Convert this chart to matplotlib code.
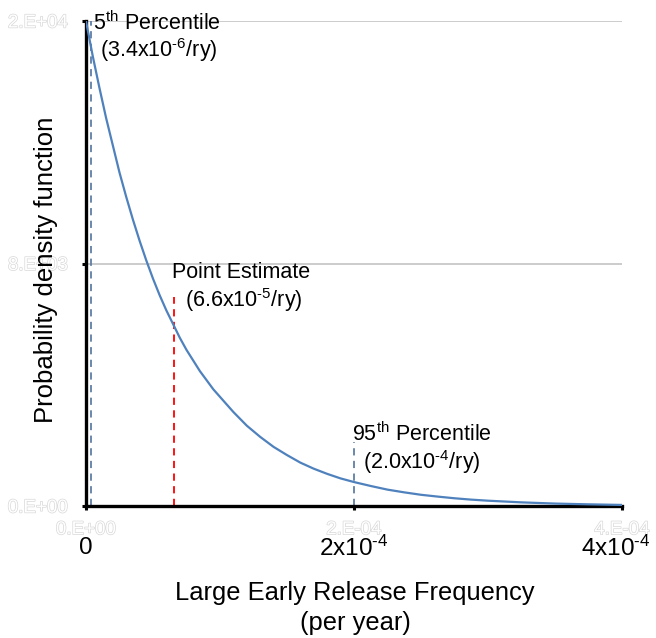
import matplotlib
matplotlib.use("Agg")
import matplotlib.pyplot as plt
import matplotlib.patheffects as pe

plt.rcParams['font.family'] = ['Liberation Sans', 'DejaVu Sans']
plt.rcParams['mathtext.fontset'] = 'custom'
plt.rcParams['mathtext.rm'] = 'Liberation Sans'
plt.rcParams['mathtext.it'] = 'Liberation Sans:italic'
plt.rcParams['mathtext.bf'] = 'Liberation Sans:bold'

# Data (frequency per year, pdf value)
freq_e4 = [0.00, 0.05, 0.10, 0.15, 0.20, 0.25, 0.30, 0.35, 0.40, 0.45, 0.50,
           0.55, 0.60, 0.65, 0.70, 0.75, 0.80, 0.85, 0.90, 0.95, 1.00,
           1.1, 1.2, 1.3, 1.4, 1.5, 1.6, 1.7, 1.8, 1.9, 2.0,
           2.125, 2.25, 2.375, 2.5, 2.625, 2.75, 2.875, 3.0, 3.25, 3.5, 3.75, 4.0]
pdf = [16000, 14850, 13800, 12800, 11900, 11000, 10200, 9450, 8750, 8100, 7500,
       6950, 6450, 6000, 5550, 5150, 4800, 4450, 4150, 3850, 3600,
       3100, 2650, 2280, 1950, 1680, 1430, 1230, 1060, 910, 790,
       660, 540, 450, 370, 310, 255, 210, 175, 120, 80, 55, 35]
freq = [v * 1e-4 for v in freq_e4]

p05 = 3.4e-6
point_est = 6.6e-5
p95 = 2.0e-4
p95_top = 2100
pe_top = 6900

y_ticks = [0, 8000, 16000]
y_tick_labels = ["0.E+00", "8.E+03", "2.E+04"]
x_ticks = [0, 2e-4, 4e-4]
x_tick_labels = ["0.E+00", "2.E-04", "4.E-04"]
x_show_labels = ["0", r"2x10$^{\text{-}4}$", r"4x10$^{\text{-}4}$"]

fig = plt.figure(figsize=(6.56, 6.38), dpi=100)
ax = fig.add_axes([86/656, 1 - 506/638, (622-86)/656, (506-21)/638])

ax.set_xlim(0, 4e-4)
ax.set_ylim(0, 16000)

for yv in y_ticks[1:]:
    ax.axhline(yv, color='#c8c8c8', lw=1.3, zorder=0)

ax.plot(freq, pdf, color='#4F81BD', lw=1.6, zorder=3, solid_joinstyle='round')

dash_col = '#5f7fa6'
ax.plot([p05, p05], [0, 16000], color=dash_col, lw=1.3, ls=(0, (4, 3)), zorder=2)
ax.plot([point_est, point_est], [0, pe_top], color='#ff0000', lw=1.3, ls=(0, (4, 3)), zorder=2)
ax.plot([p95, p95], [0, p95_top], color=dash_col, lw=1.3, ls=(0, (4, 3)), zorder=2)

for s in ['top', 'right']:
    ax.spines[s].set_visible(False)
for s in ['left', 'bottom']:
    ax.spines[s].set_linewidth(2.4)
    ax.spines[s].set_color('black')

outline = [pe.withStroke(linewidth=1.0, foreground='#d8d8d8')]
ax.set_yticks(y_ticks)
ax.set_yticklabels(y_tick_labels, color='white', fontsize=13.5, path_effects=outline)
ax.set_xticks(x_ticks)
ax.set_xticklabels(x_tick_labels, color='white', fontsize=13.5, path_effects=outline)
ax.tick_params(axis='y', length=3, width=2.2, pad=10, direction='out')
ax.tick_params(axis='x', length=3, width=2.2, pad=8, direction='out')

x_offsets = [0, 0, -6]
for xv, lab, dx in zip(x_ticks, x_show_labels, x_offsets):
    ax.annotate(lab, xy=(xv, 0), xycoords='data', xytext=(dx, -42), textcoords='offset pixels',
                ha='center', va='center', fontsize=17.5, color='black', annotation_clip=False)

fs = 15.5
ax.annotate(r"5$^{\mathrm{th}}$ Percentile", xy=(0, 16000), xytext=(93-86, -2),
            textcoords='offset pixels', xycoords='data', ha='left', va='center', fontsize=fs,
            annotation_clip=False)
ax.annotate(r"(3.4x10$^{\text{-}6}$/ry)", xy=(0, 16000), xytext=(100-86, -29),
            textcoords='offset pixels', xycoords='data', ha='left', va='center', fontsize=fs,
            annotation_clip=False)
ax.annotate("Point Estimate", xy=(0, 0), xytext=(172-86, 506-273),
            textcoords='offset pixels', xycoords='data', ha='left', va='center', fontsize=fs)
ax.annotate(r"(6.6x10$^{\text{-}5}$/ry)", xy=(0, 0), xytext=(185-86, 506-300),
            textcoords='offset pixels', xycoords='data', ha='left', va='center', fontsize=fs)
ax.annotate(r"95$^{\mathrm{th}}$ Percentile", xy=(0, 0), xytext=(352-86, 506-434),
            textcoords='offset pixels', xycoords='data', ha='left', va='center', fontsize=fs)
ax.annotate(r"(2.0x10$^{\text{-}4}$/ry)", xy=(0, 0), xytext=(363-86, 506-462),
            textcoords='offset pixels', xycoords='data', ha='left', va='center', fontsize=fs)

fig.text(355/656, 1 - 593/638, "Large Early Release Frequency", ha='center', va='center', fontsize=18.4)
fig.text(355/656, 1 - 623/638, "(per year)", ha='center', va='center', fontsize=18.4)
fig.text(46/656, 1 - 270/638, "Probability density function", ha='center', va='center',
         fontsize=18.5, rotation=90)

fig.savefig("out.png", dpi=100)
